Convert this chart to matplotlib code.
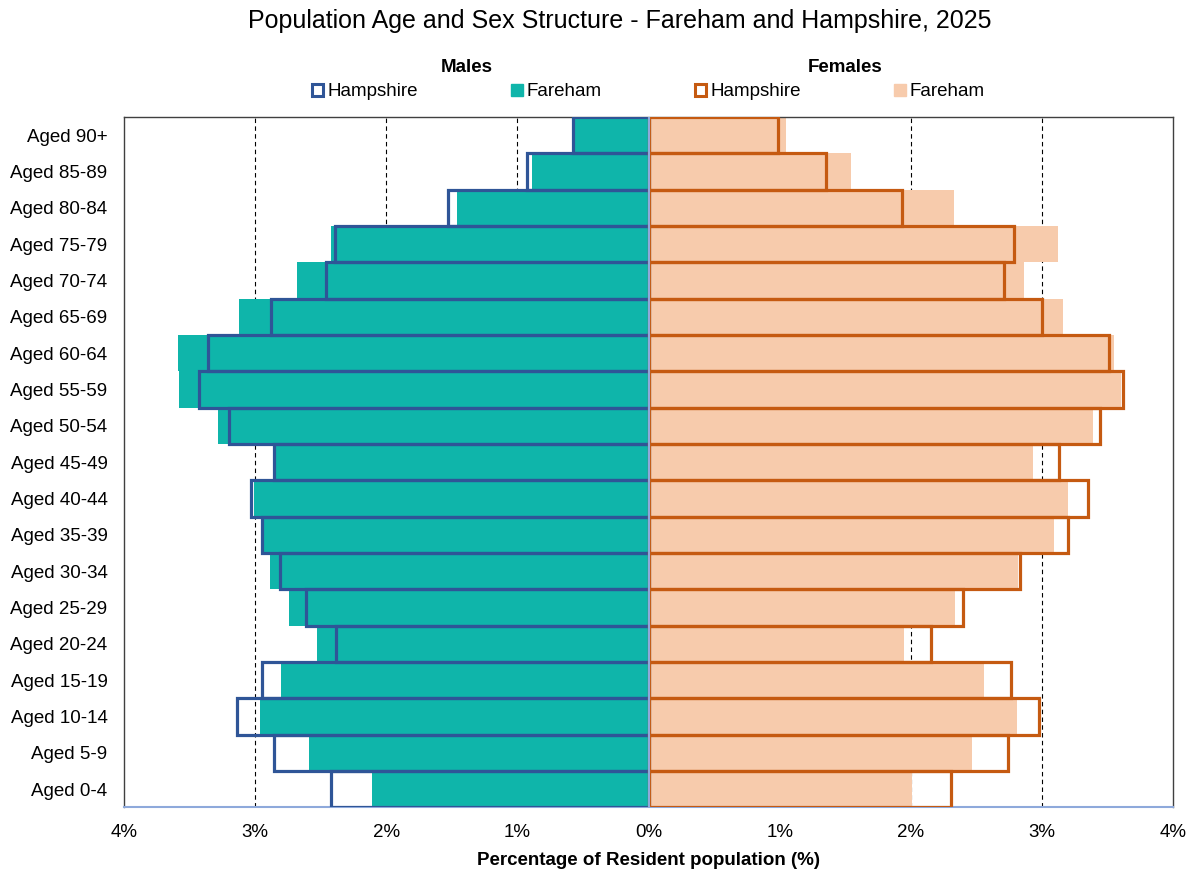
import matplotlib.pyplot as plt
from matplotlib.patches import Patch
import numpy as np

plt.rcParams['font.family'] = ['Liberation Sans', 'DejaVu Sans']

# Age bands, youngest first (bottom of the chart)
ages = ['Aged 0-4', 'Aged 5-9', 'Aged 10-14', 'Aged 15-19', 'Aged 20-24',
        'Aged 25-29', 'Aged 30-34', 'Aged 35-39', 'Aged 40-44', 'Aged 45-49',
        'Aged 50-54', 'Aged 55-59', 'Aged 60-64', 'Aged 65-69', 'Aged 70-74',
        'Aged 75-79', 'Aged 80-84', 'Aged 85-89', 'Aged 90+']

# % of resident population
male_fareham = [2.11, 2.59, 2.96, 2.80, 2.53, 2.74, 2.89, 2.94, 3.01, 2.84,
                3.28, 3.58, 3.59, 3.12, 2.68, 2.42, 1.46, 0.89, 0.57]
male_hampshire = [2.42, 2.86, 3.14, 2.95, 2.38, 2.61, 2.81, 2.95, 3.03, 2.86,
                  3.20, 3.43, 3.36, 2.88, 2.46, 2.39, 1.53, 0.93, 0.58]
female_fareham = [2.01, 2.47, 2.81, 2.56, 1.95, 2.34, 2.82, 3.09, 3.20, 2.93,
                  3.39, 3.60, 3.55, 3.16, 2.86, 3.12, 2.33, 1.54, 1.05]
female_hampshire = [2.31, 2.74, 2.98, 2.76, 2.15, 2.40, 2.83, 3.20, 3.35, 3.13,
                    3.44, 3.62, 3.51, 3.00, 2.71, 2.79, 1.93, 1.35, 0.99]

teal = '#0FB5AA'
peach = '#F7CBAC'
blue = '#2F5597'
orange = '#C55A11'

y = np.arange(len(ages))

fig = plt.figure(figsize=(11.94, 8.76), dpi=100)
ax = fig.add_axes([0.1039, 0.0782, 0.8786, 0.7882])

# Fareham filled bars
ax.barh(y, -np.array(male_fareham), height=1.0, color=teal, zorder=2)
ax.barh(y, female_fareham, height=1.0, color=peach, zorder=2)
# Hampshire outlines
ax.barh(y, -np.array(male_hampshire), height=1.0, facecolor='none',
        edgecolor=blue, linewidth=2.3, zorder=3)
ax.barh(y, female_hampshire, height=1.0, facecolor='none',
        edgecolor=orange, linewidth=2.3, zorder=3)

ax.axvline(0, color='#8EA9DB', linewidth=1.5, zorder=4)

ax.set_xlim(-4, 4)
ax.set_ylim(-0.5, len(ages) - 0.5)
ticks = [-4, -3, -2, -1, 0, 1, 2, 3, 4]
ax.set_xticks(ticks)
ax.set_xticklabels([f'{abs(t)}%' for t in ticks], fontsize=13.5)
ax.set_yticks(y)
ax.set_yticklabels(ages, fontsize=13.5)
ax.tick_params(axis='both', length=0)
ax.tick_params(axis='x', pad=12)
ax.tick_params(axis='y', pad=12)

for t in [-3, -2, -1, 1, 2, 3]:
    ax.axvline(t, color='black', linestyle=(0, (4, 3)), linewidth=0.8, zorder=1)

for s in ['top', 'right', 'left']:
    ax.spines[s].set_color('#404040')
    ax.spines[s].set_linewidth(1.0)
ax.spines['bottom'].set_color('#8EA9DB')
ax.spines['bottom'].set_linewidth(1.5)

ax.set_xlabel('Percentage of Resident population (%)', fontsize=13.5,
              fontweight='bold', labelpad=8)

fig.text(0.519, 0.976, 'Population Age and Sex Structure - Fareham and Hampshire, 2025',
         ha='center', va='center', fontsize=18)
fig.text(0.391, 0.923, 'Males', ha='center', va='center', fontsize=13.5,
         fontweight='bold')
fig.text(0.708, 0.923, 'Females', ha='center', va='center', fontsize=13.5,
         fontweight='bold')

handles = [
    Patch(facecolor='white', edgecolor=blue, linewidth=2.2, label='Hampshire'),
    Patch(facecolor=teal, edgecolor=teal, label='Fareham'),
    Patch(facecolor='white', edgecolor=orange, linewidth=2.2, label='Hampshire'),
    Patch(facecolor=peach, edgecolor=peach, label='Fareham'),
]
fig.legend(handles=handles, ncol=4, loc='center', bbox_to_anchor=(0.543, 0.895),
           frameon=False, fontsize=13.5, handlelength=0.6, handleheight=0.6,
           handletextpad=0.2, columnspacing=5.0)

fig.savefig('out.png', dpi=100)
